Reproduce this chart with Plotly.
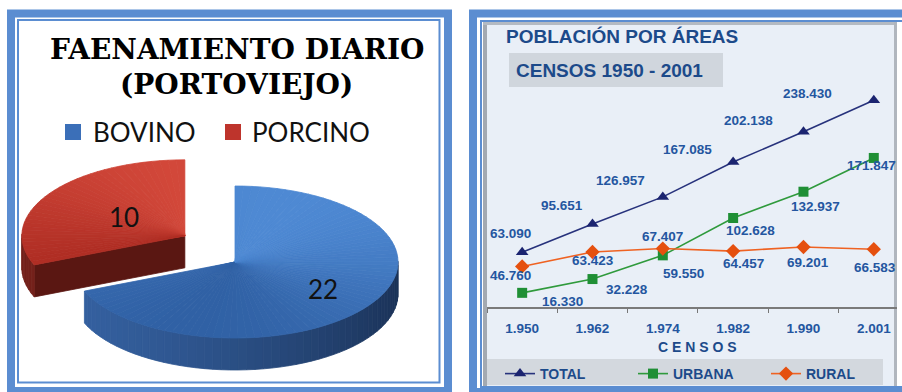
import math
import plotly.graph_objects as go

# ---------------- data ----------------
especies = ["BOVINO", "PORCINO"]
faenamiento = [22, 10]

anios_censo = [1950, 1962, 1974, 1982, 1990, 2001]
poblacion_total = [63090, 95651, 126957, 167085, 202138, 238430]
poblacion_urbana = [16330, 32228, 59550, 102628, 132937, 171847]
poblacion_rural = [46760, 63423, 67407, 64457, 69201, 66583]


def miles(v):
    """Spanish thousands separator: 63090 -> 63.090"""
    return f"{v:,}".replace(",", ".")


censos = [miles(a) for a in anios_censo]

# ---------------- canvas helpers ----------------
W, H = 902, 392


def px(x):
    return x / W


def py(y):
    return 1 - y / H


def hex_rgb(c):
    return [int(c[i:i + 2], 16) for i in (1, 3, 5)]


def mix(c1, c2, t):
    t = min(max(t, 0.0), 1.0)
    a, b = hex_rgb(c1), hex_rgb(c2)
    return "rgb(%d,%d,%d)" % tuple(round(a[k] + (b[k] - a[k]) * t) for k in range(3))


fig = go.Figure()

# ---------------- 3-D pie (left panel) ----------------
PIE_CX, PIE_CY = 235, 262
PIE_RX, PIE_RY = 163, 76
PIE_DEPTH = 32
explode_x = [0.0, 0.37]   # pull-out along the bisector, fraction of RX
explode_y = [0.0, 0.62]   # pull-out along the bisector, fraction of RY
label_radius = [0.65, 0.45]
top_light = ["#4e89d3", "#d4493b"]
top_dark = ["#3061a5", "#a8281f"]
side_light = ["#34609f", "#74211b"]
side_dark = ["#1a3156", "#4a1210"]
face_color = ["#23406f", "#5a1712"]


def poly(xs, ys, color):
    fig.add_trace(go.Scatter(
        x=xs, y=ys, mode="lines", fill="toself", fillcolor=color,
        line=dict(color=color, width=0.8), hoverinfo="skip",
        showlegend=False, xaxis="x2", yaxis="y2"))


total_faena = sum(faenamiento)
spans = [360.0 * v / total_faena for v in faenamiento]
# first wedge starts at 12 o'clock and runs clockwise, as in a spreadsheet pie
wedges = []
a1 = 90.0
for s in spans:
    wedges.append((a1 - s, a1))
    a1 -= s
wedges = [(a % 360, a % 360 + (b - a)) for a, b in wedges]


def point(cx, cy, t, z=0.0):
    r = math.radians(t)
    return cx + PIE_RX * math.cos(r), cy - PIE_RY * math.sin(r) + z


pie_labels = []
# draw the pulled-out (rear) wedge first, then the front one
for i in sorted(range(len(spans)), key=lambda k: -explode_x[k]):
    a, b = wedges[i]
    mid = math.radians((a + b) / 2)
    cx = PIE_CX + explode_x[i] * PIE_RX * math.cos(mid)
    cy = PIE_CY - explode_y[i] * PIE_RY * math.sin(mid)

    # cut faces that look towards the viewer
    for edge, visible in ((a, math.cos(math.radians(a)) > 1e-9),
                          (b, math.cos(math.radians(b)) < -1e-9)):
        if visible:
            ex, ey = point(cx, cy, edge)
            poly([cx, ex, ex, cx, cx], [cy, ey, ey + PIE_DEPTH, cy + PIE_DEPTH, cy],
                 face_color[i])

    n = max(2, int(math.ceil((b - a) / 3.0)))
    step = (b - a) / n
    # outer rim on the front half
    for k in range(n):
        t0, t1 = a + k * step, a + (k + 1) * step
        tm = math.radians((t0 + t1) / 2)
        if math.sin(tm) >= 0:
            continue
        g = 0.5 + 0.5 * math.cos(tm - math.radians(195))
        col = mix(side_dark[i], side_light[i], g)
        p0, p1 = point(cx, cy, t0), point(cx, cy, t1)
        poly([p0[0], p1[0], p1[0], p0[0], p0[0]],
             [p0[1], p1[1], p1[1] + PIE_DEPTH, p0[1] + PIE_DEPTH, p0[1]], col)

    # top face, shaded by direction
    for k in range(n):
        t0, t1 = a + k * step, a + (k + 1) * step
        tm = math.radians((t0 + t1) / 2)
        f = 0.5 + 0.5 * math.cos(tm - math.radians(70))
        col = mix(top_dark[i], top_light[i], f)
        p0, p1 = point(cx, cy, t0), point(cx, cy, t1)
        poly([cx, p0[0], p1[0], cx], [cy, p0[1], p1[1], cy], col)

    lx = cx + label_radius[i] * PIE_RX * math.cos(mid)
    ly = cy - label_radius[i] * PIE_RY * math.sin(mid)
    pie_labels.append(dict(x=lx, y=ly, xref="x2", yref="y2", text=str(faenamiento[i]),
                           showarrow=False, font=dict(family="Lato", size=26, color="#111111")))

# ---------------- line chart (right panel) ----------------
series = [
    ("TOTAL", poblacion_total, "#27327c", "#1b2470", "triangle-up", 11),
    ("URBANA", poblacion_urbana, "#2f9a3c", "#1f8f35", "square", 10),
    ("RURAL", poblacion_rural, "#ef6222", "#e5500f", "diamond", 11),
]
for name, vals, lc, mc, sym, ms in series:
    fig.add_trace(go.Scatter(
        x=censos, y=vals, name=name, mode="lines+markers",
        line=dict(color=lc, width=1.6),
        marker=dict(symbol=sym, size=ms, color=mc),
        cliponaxis=False, hoverinfo="skip"))

# value-label placement around each point (px: right, up)
label_shift = {
    "TOTAL": [(-12, 19), (-30, 19), (-42, 16), (-46, 13), (-55, 11), (-66, 7)],
    "URBANA": [(40, -9), (35, -10), (21, -18), (17, -13), (12, -15), (-2, -8)],
    "RURAL": [(-12, -9), (1, -9), (0, 12), (10, -12), (5, -16), (1, -18)],
}
LABEL_BLUE = "#2456a0"
value_labels = []
for name, vals, *_ in series:
    for idx, (v, (dx, dy)) in enumerate(zip(vals, label_shift[name])):
        # category axis: annotation x is the category index
        value_labels.append(dict(
            x=idx, y=v, xref="x", yref="y", text=miles(v), showarrow=False,
            xshift=dx, yshift=dy,
            font=dict(family="Liberation Sans", size=13.5, color=LABEL_BLUE, weight="bold")))

# ---------------- decoration ----------------
FRAME = "#5b8dd1"
shapes = [
    # right panel background, legend band and soft inner edges
    dict(type="rect", xref="paper", yref="paper", x0=px(483), x1=px(897), y0=py(386), y1=py(22),
         fillcolor="#e9eff7", line=dict(width=0), layer="below"),
    dict(type="rect", xref="paper", yref="paper", x0=px(485), x1=px(883), y0=py(385), y1=py(359),
         fillcolor="#d3d8de", line=dict(width=0), layer="below"),
    dict(type="rect", xref="paper", yref="paper", x0=px(483), x1=px(487), y0=py(386), y1=py(22),
         fillcolor="#a3a9b1", line=dict(width=0), layer="below"),
    dict(type="rect", xref="paper", yref="paper", x0=px(483), x1=px(897), y0=py(25), y1=py(22),
         fillcolor="#b4bac2", line=dict(width=0), layer="below"),
    dict(type="rect", xref="paper", yref="paper", x0=px(894), x1=px(897), y0=py(386), y1=py(22),
         fillcolor="#b0b6be", line=dict(width=0), layer="below"),
    # subtitle box
    dict(type="rect", xref="paper", yref="paper", x0=px(509), x1=px(723), y0=py(87), y1=py(53),
         fillcolor="#d0d6dd", line=dict(width=0), layer="below"),
    # left panel frame
    dict(type="rect", xref="paper", yref="paper", x0=px(11), x1=px(448), y0=py(391), y1=py(13.5),
         line=dict(color=FRAME, width=8)),
    dict(type="rect", xref="paper", yref="paper", x0=px(18), x1=px(439.5), y0=py(382.5), y1=py(20),
         line=dict(color=FRAME, width=2)),
    # right panel frame
    dict(type="rect", xref="paper", yref="paper", x0=px(473), x1=px(912), y0=py(392), y1=py(13.5),
         line=dict(color=FRAME, width=8)),
    dict(type="rect", xref="paper", yref="paper", x0=px(481), x1=px(905), y0=py(387), y1=py(21),
         line=dict(color=FRAME, width=2)),
    # legend swatches of the pie
    dict(type="rect", xref="paper", yref="paper", x0=px(65), x1=px(81), y0=py(140), y1=py(124),
         fillcolor="#3b6fb8", line=dict(width=0)),
    dict(type="rect", xref="paper", yref="paper", x0=px(225), x1=px(241), y0=py(140), y1=py(124),
         fillcolor="#be342c", line=dict(width=0)),
]

TITLE_BLUE = "#1c4a8a"
texts = [
    dict(x=px(237), y=py(49), text="<b>FAENAMIENTO DIARIO</b>",
         font=dict(family="DejaVu Serif", size=28, color="#000000")),
    dict(x=px(236), y=py(84), text="<b>(PORTOVIEJO)</b>",
         font=dict(family="DejaVu Serif", size=28, color="#000000")),
    dict(x=px(91), y=py(132), text=especies[0], xanchor="left",
         font=dict(family="Lato", size=26, color="#111111")),
    dict(x=px(250), y=py(132), text=especies[1], xanchor="left",
         font=dict(family="Lato", size=26, color="#111111")),
    dict(x=px(504), y=py(37), text="<b>POBLACIÓN POR ÁREAS</b>", xanchor="left",
         font=dict(family="Liberation Sans", size=19, color=TITLE_BLUE)),
    dict(x=px(514), y=py(70), text="<b>CENSOS 1950 - 2001</b>", xanchor="left",
         font=dict(family="Liberation Sans", size=19, color=TITLE_BLUE)),
    dict(x=px(697), y=py(347), text="<b>C E N S O S</b>",
         font=dict(family="Liberation Sans", size=14, color=TITLE_BLUE)),
]
annotations = []
for t in texts:
    d = dict(xref="paper", yref="paper", showarrow=False, xanchor="center", yanchor="middle")
    d.update(t)
    annotations.append(d)
annotations += value_labels + pie_labels

fig.update_layout(
    width=W, height=H, margin=dict(l=0, r=0, t=0, b=0),
    paper_bgcolor="#ffffff", plot_bgcolor="rgba(0,0,0,0)",
    showlegend=True,
    legend=dict(orientation="h", x=px(500), y=py(374), xanchor="left", yanchor="middle",
                bgcolor="rgba(0,0,0,0)", entrywidth=88, entrywidthmode="pixels",
                font=dict(family="Liberation Sans", size=14, color=TITLE_BLUE, weight="bold")),
    xaxis=dict(domain=[px(487), px(897)], type="category", range=[-0.5, 5.33],
               tickson="boundaries", ticks="outside", ticklen=4, tickcolor="#777777",
               showline=True, linecolor="#7a7a7a", linewidth=1.5, showgrid=False,
               zeroline=False, ticklabelstandoff=8, fixedrange=True,
               tickfont=dict(family="Liberation Sans", size=13.5, color=LABEL_BLUE, weight="bold")),
    yaxis=dict(domain=[py(307), py(60)], range=[0, 284800], visible=False, fixedrange=True),
    xaxis2=dict(domain=[0, px(460)], range=[0, 460], visible=False, fixedrange=True),
    yaxis2=dict(domain=[0, 1], range=[392, 0], visible=False, fixedrange=True, anchor="x2"),
    shapes=shapes, annotations=annotations,
)

fig.write_html("out.html")
